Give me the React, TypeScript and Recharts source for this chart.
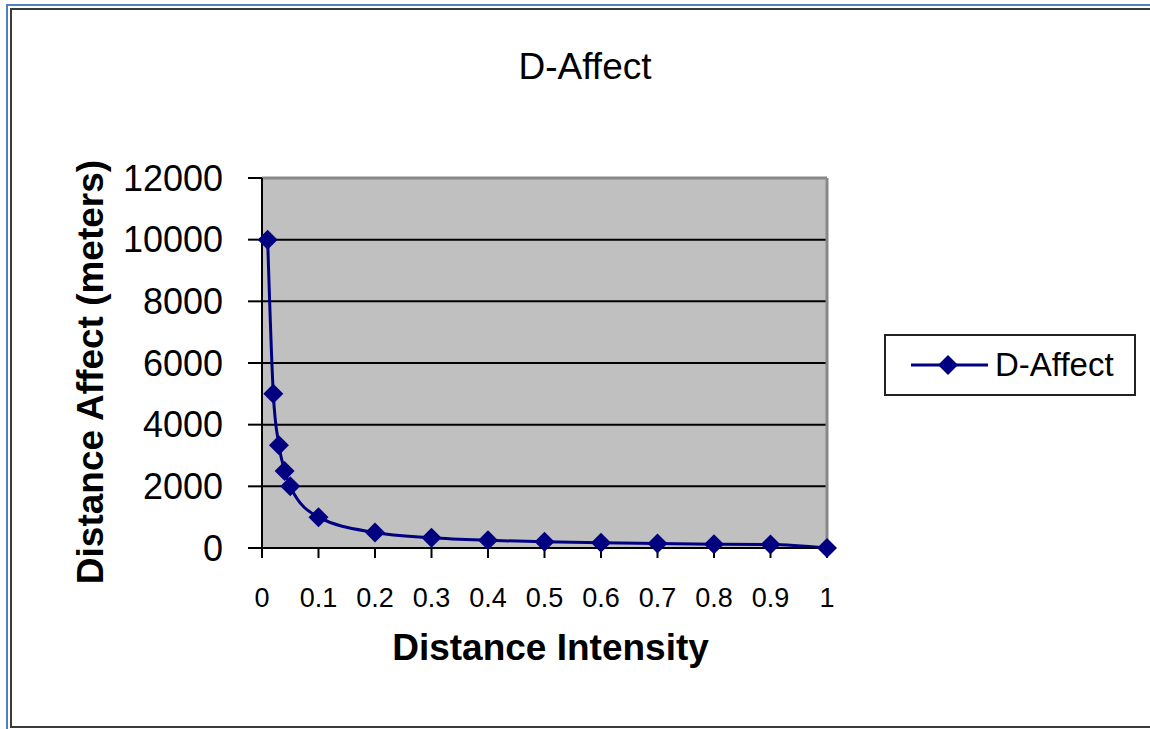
import { ComposedChart, Line, XAxis, YAxis, CartesianGrid, Legend, Label } from 'recharts'

const FONT = 'Arial, "Liberation Sans", sans-serif'

// distance intensity (x) vs distance affect in meters (y)
const intensity = [0.01, 0.02, 0.03, 0.04, 0.05, 0.1, 0.2, 0.3, 0.4, 0.5, 0.6, 0.7, 0.8, 0.9, 1]
const affect = [10000, 5000, 3333, 2500, 2000, 1000, 500, 333, 250, 200, 167, 143, 125, 111, 0]
const xTicks = [0, 0.1, 0.2, 0.3, 0.4, 0.5, 0.6, 0.7, 0.8, 0.9, 1]
const yTicks = [0, 2000, 4000, 6000, 8000, 10000, 12000]
const gridValues = [0, 2000, 4000, 6000, 8000, 10000]
const seriesName = 'D-Affect'

const data = intensity.map((x, i) => ({ x, y: affect[i] }))

const NAVY = '#000080'

const Diamond = (props: any) => {
  const { cx, cy, index } = props
  if (cx == null || cy == null) return <g key={index} />
  const r = 10
  return (
    <polygon
      key={index}
      points={`${cx},${cy - r} ${cx + r},${cy} ${cx},${cy + r} ${cx - r},${cy}`}
      fill={NAVY}
    />
  )
}

const LegendBox = (props: any) => {
  const items = props.payload ?? []
  return (
    <div
      style={{
        width: 252,
        height: 62,
        boxSizing: 'border-box',
        border: '2px solid #222',
        background: '#fff',
        display: 'flex',
        alignItems: 'center',
      }}
    >
      {items.map((item: any) => (
        <div key={item.value} style={{ display: 'flex', alignItems: 'center' }}>
          <svg width={106} height={30} style={{ display: 'block' }}>
            <line x1={25} y1={15} x2={102} y2={15} stroke={item.color} strokeWidth={3} />
            <polygon points="62,5 72,15 62,25 52,15" fill={item.color} />
          </svg>
          <span style={{ fontFamily: FONT, fontSize: 33, color: '#000', marginLeft: 3 }}>{item.value}</span>
        </div>
      ))}
    </div>
  )
}

const YTitle = (props: any) => {
  const { x, y, height } = props.viewBox
  const cx = x + 90
  const cy = y + height / 2 + 9
  return (
    <text
      x={cx}
      y={cy}
      transform={`rotate(-90, ${cx}, ${cy})`}
      textAnchor="middle"
      dominantBaseline="central"
      fontFamily={FONT}
      fontSize={37}
      fontWeight="bold"
      fill="#000"
    >
      Distance Affect (meters)
    </text>
  )
}

const XTitle = (props: any) => {
  const { x, y, width } = props.viewBox
  return (
    <text
      x={x + width / 2 + 6}
      y={y + 112}
      textAnchor="middle"
      fontFamily={FONT}
      fontSize={37}
      fontWeight="bold"
      fill="#000"
    >
      Distance Intensity
    </text>
  )
}

export default function App() {
  return (
    <div
      style={{
        position: 'absolute',
        left: 0,
        top: 0,
        width: 1150,
        height: 729,
        background: '#fff',
        overflow: 'hidden',
      }}
    >
      <div
        style={{
          position: 'absolute',
          left: 6,
          top: 4,
          width: 1300,
          height: 900,
          borderLeft: '2px solid #4f81bd',
          borderTop: '2px solid #4f81bd',
        }}
      />
      <div
        style={{
          position: 'absolute',
          left: 10,
          top: 8,
          width: 1300,
          height: 720,
          boxSizing: 'border-box',
          borderLeft: '2px solid #3a3a3a',
          borderTop: '2px solid #3a3a3a',
          borderBottom: '2px solid #3a3a3a',
        }}
      />
      <div
        style={{
          position: 'absolute',
          left: 485,
          top: 48,
          width: 200,
          textAlign: 'center',
          fontFamily: FONT,
          fontSize: 37,
          lineHeight: '37px',
          color: '#000',
        }}
      >
        D-Affect
      </div>
      <div style={{ position: 'absolute', left: 0, top: 0 }}>
        <ComposedChart
          width={1150}
          height={729}
          data={data}
          margin={{ top: 178, right: 323, bottom: 0, left: 0 }}
        >
          <CartesianGrid
            fill="#c0c0c0"
            fillOpacity={1}
            stroke="#000"
            strokeWidth={2}
            vertical={false}
            horizontalValues={gridValues}
          />
          <CartesianGrid
            stroke="#888"
            strokeWidth={3}
            horizontalValues={[12000]}
            verticalValues={[1]}
          />
          <XAxis
            type="number"
            dataKey="x"
            domain={[0, 1]}
            ticks={xTicks}
            height={181}
            tickSize={10}
            tickMargin={30}
            tickFormatter={(v) => String(v)}
            tick={{ fill: '#000', fontSize: 27, fontFamily: FONT }}
            axisLine={{ stroke: '#000', strokeWidth: 2 }}
            tickLine={{ stroke: '#000', strokeWidth: 2 }}
          >
            <Label content={XTitle} />
          </XAxis>
          <YAxis
            type="number"
            domain={[0, 12000]}
            ticks={yTicks}
            width={262}
            tickSize={14}
            tickMargin={25}
            tick={{ fill: '#000', fontSize: 36, fontFamily: FONT }}
            axisLine={{ stroke: '#000', strokeWidth: 2 }}
            tickLine={{ stroke: '#000', strokeWidth: 2 }}
          >
            <Label content={YTitle} />
          </YAxis>
          <Legend
            layout="horizontal"
            align="center"
            verticalAlign="middle"
            content={LegendBox}
            wrapperStyle={{ left: 884, top: 334, width: 252, height: 62 }}
          />
          <Line
            dataKey="y"
            name={seriesName}
            type="monotone"
            stroke={NAVY}
            strokeWidth={3}
            dot={Diamond}
            activeDot={false}
            isAnimationActive={false}
          />
        </ComposedChart>
      </div>
    </div>
  )
}
